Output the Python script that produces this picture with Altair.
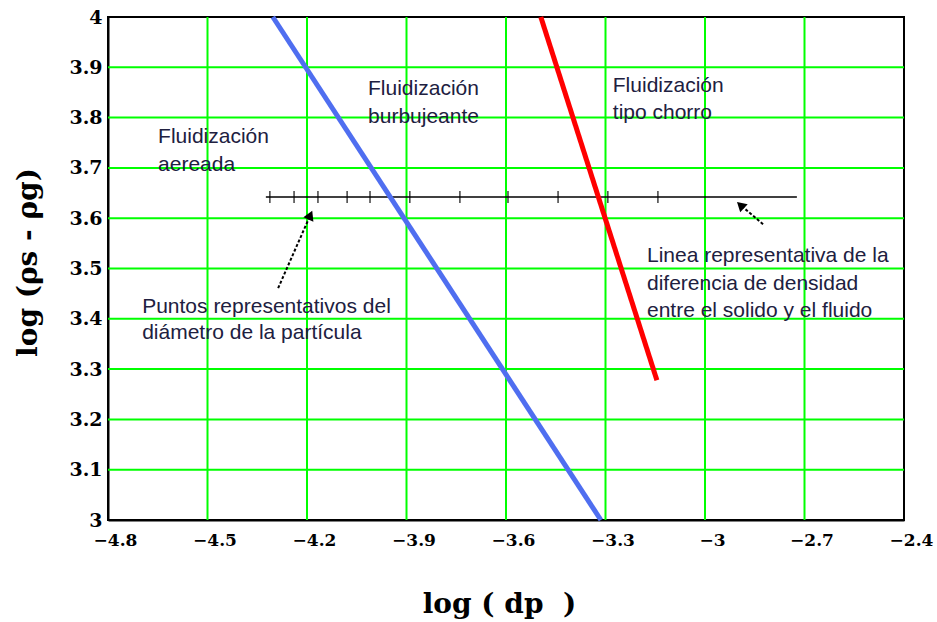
import altair as alt
import pandas as pd

# ---- data ----
X_TICKS = [-4.8, -4.5, -4.2, -3.9, -3.6, -3.3, -3.0, -2.7, -2.4]
Y_TICKS = [3.0, 3.1, 3.2, 3.3, 3.4, 3.5, 3.6, 3.7, 3.8, 3.9, 4.0]

bubbling_x = [-4.303, -3.314]     # blue boundary
bubbling_y = [4.0, 3.0]
spouting_x = [-3.495, -3.145]     # red boundary
spouting_y = [4.0, 3.278]

density_x = [-4.324, -2.723]      # horizontal density-difference line
density_y = [3.642, 3.642]
particle_x = [-4.312, -4.239, -4.167, -4.079, -4.010, -3.890,
              -3.739, -3.594, -3.443, -3.293, -3.142]

label_text = ["Fluidización", "aereada",
              "Fluidización", "burbujeante",
              "Fluidización", "tipo chorro",
              "Linea representativa de la", "diferencia de densidad",
              "entre el solido y el fluido",
              "Puntos representativos del", "diámetro de la partícula"]
label_x = [-4.649, -4.649, -4.016, -4.016, -3.278, -3.278,
           -3.175, -3.175, -3.175, -4.697, -4.697]
label_y = [3.750, 3.694, 3.845, 3.790, 3.851, 3.797,
           3.513, 3.458, 3.404, 3.412, 3.360]

arrow_x = [-4.287, -2.825]
arrow_y = [3.461, 3.588]
arrow_tip_x = [-4.190, -2.893]
arrow_tip_y = [3.606, 3.626]
arrow_angle = [24, 313]

X_TITLE = "log ( dp\u00a0\u00a0)"
Y_TITLE = "log (ρs - ρg)"

# ---- tables ----
W, H = 796, 503
xscale = alt.Scale(domain=[X_TICKS[0], X_TICKS[-1]], nice=False, zero=False)
yscale = alt.Scale(domain=[Y_TICKS[0], Y_TICKS[-1]], nice=False, zero=False)

xaxis = alt.Axis(values=X_TICKS, format="~g", title=X_TITLE, grid=False,
                 ticks=False, tickSize=0, labelPadding=12, labelOffset=7,
                 labelFont="DejaVu Serif", labelFontWeight="bold",
                 labelFontSize=17, labelColor="black",
                 titleFont="DejaVu Serif", titleFontWeight="bold",
                 titleFontSize=28, titleColor="black",
                 titleX=391, titleY=92, titleBaseline="alphabetic",
                 domainColor="black", domainWidth=2, labelFlush=False)
yaxis = alt.Axis(values=Y_TICKS, format="~g", title=Y_TITLE, grid=False,
                 ticks=False, tickSize=0, labelPadding=6,
                 labelFont="DejaVu Serif", labelFontWeight="bold",
                 labelFontSize=19, labelColor="black",
                 titleFont="DejaVu Serif", titleFontWeight="bold",
                 titleFontSize=28, titleColor="black",
                 titleX=-80, titleY=245, titleBaseline="middle",
                 domainColor="black", domainWidth=2, labelFlush=False)


def X(field="x"):
    return alt.X(f"{field}:Q", scale=xscale, axis=xaxis)


def Y(field="y"):
    return alt.Y(f"{field}:Q", scale=yscale, axis=yaxis)


vgrid = pd.DataFrame({"x": X_TICKS[1:-1]})
hgrid = pd.DataFrame({"y": Y_TICKS[1:-1]})
blue = pd.DataFrame({"x": bubbling_x, "y": bubbling_y})
red = pd.DataFrame({"x": spouting_x, "y": spouting_y})
dens = pd.DataFrame({"x": [density_x[0]], "x2": [density_x[1]], "y": [density_y[0]]})
parts = pd.DataFrame({"x": particle_x, "y": [density_y[0]] * len(particle_x)})
labels = pd.DataFrame({"x": label_x, "y": label_y, "t": label_text})
arrows = pd.DataFrame({"x": arrow_x, "y": arrow_y, "x2": arrow_tip_x, "y2": arrow_tip_y,
                       "a": arrow_angle})

grid_v = alt.Chart(vgrid).mark_rule(color="#00ff00", strokeWidth=2).encode(x=X())
grid_h = alt.Chart(hgrid).mark_rule(color="#00ff00", strokeWidth=2).encode(y=Y())

line_blue = alt.Chart(blue).mark_line(color="#4f6ef0", strokeWidth=5).encode(x=X(), y=Y())
line_red = alt.Chart(red).mark_line(color="#ff0000", strokeWidth=5).encode(x=X(), y=Y())

dens_line = alt.Chart(dens).mark_rule(color="black", strokeWidth=1.6).encode(
    x=X(), x2="x2:Q", y=Y())
dens_ticks = alt.Chart(parts).mark_tick(color="black", orient="vertical", size=12,
                                        thickness=1.6).encode(x=X(), y=Y())

texts = alt.Chart(labels).mark_text(align="left", baseline="alphabetic",
                                    font="Liberation Sans", fontSize=21,
                                    color="#202040").encode(x=X(), y=Y(), text="t:N")

arrow_shaft = alt.Chart(arrows).mark_rule(color="black", strokeWidth=2,
                                          strokeDash=[3, 2]).encode(
    x=X(), y=Y(), x2="x2:Q", y2="y2:Q")
arrow_head = alt.Chart(arrows).mark_point(shape="triangle-up", filled=True, size=120,
                                          color="black", opacity=1).encode(
    x=X("x2"), y=Y("y2"), angle=alt.Angle("a:Q", scale=None))

chart = alt.layer(grid_v, grid_h, dens_line, dens_ticks, line_blue, line_red,
                  arrow_shaft, arrow_head, texts).properties(
    width=W, height=H,
    autosize=alt.AutoSizeParams(type="none"),
    padding={"left": 108, "top": 17, "right": 33, "bottom": 102},
    background="white",
).configure_view(stroke="black", strokeWidth=2)

chart.save("out.html", embed_options={"renderer": "svg", "actions": False})
